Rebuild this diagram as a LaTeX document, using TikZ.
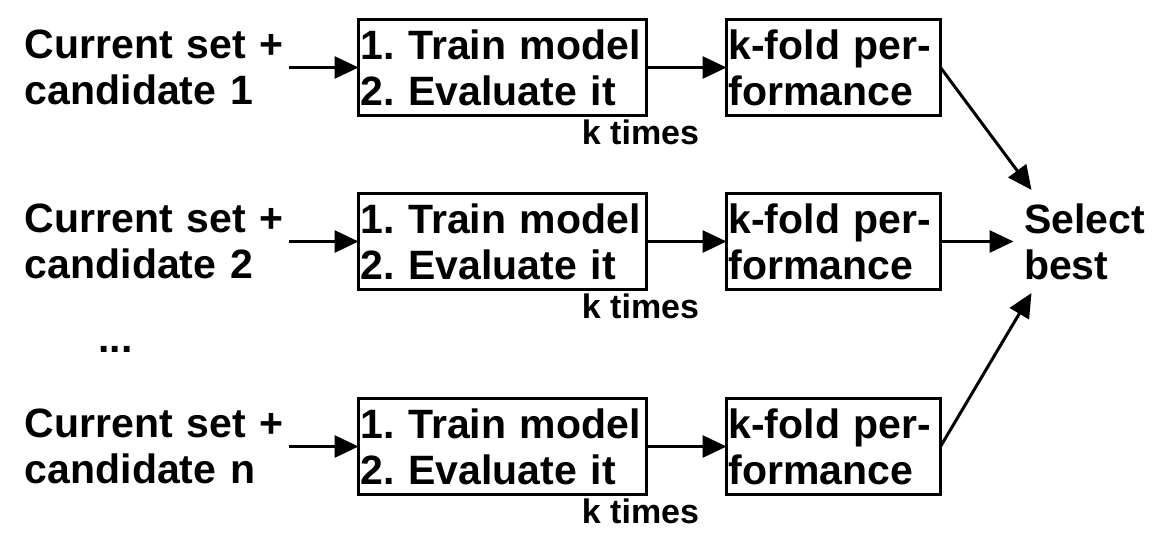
\documentclass[tikz,border=0pt]{standalone}
\usepackage{fontspec}
\setmainfont{Liberation Sans}
\usetikzlibrary{matrix,arrows.meta}
\frenchspacing

\begin{document}
\begin{tikzpicture}[>={Triangle[length=24pt,width=22pt]}, line width=3pt,
	ktimes/.style={anchor=north, inner sep=3pt, font=\fontsize{34pt}{38pt}\selectfont\bfseries},
	selbox/.style={align=left, inner xsep=9pt, inner ysep=12pt, font=\fontsize{41pt}{46pt}\selectfont\bfseries}]
\useasboundingbox (0,0) rectangle (1159pt,-539pt);
\matrix (M)
[
	matrix of nodes,
	anchor=north west,
	inner sep=0pt, outer sep=0pt,
	column sep=68pt,
	row sep=75pt,
	nodes= {
		font=\fontsize{41pt}{46pt}\selectfont\bfseries,
		align=left, outer sep=0pt, inner ysep=0pt,
		minimum height=96pt, anchor=center
	},
	column 1/.style={nodes={text width=262pt, inner xsep=2pt}},
	column 2/.style={nodes={draw, text width=284pt, inner xsep=2pt}},
	column 3/.style={nodes={draw, text width=210pt, inner xsep=2pt}}
] at (23pt,-18pt) {
 {Current set +\\candidate 1} & {1. Train model\\2. Evaluate it} &[9pt] {k-fold per-\\formance} \\
 {Current set +\\candidate 2} & {1. Train model\\2. Evaluate it} & {k-fold per-\\formance} \\[31pt]
 {Current set +\\candidate n} & {1. Train model\\2. Evaluate it} & {k-fold per-\\formance} \\
};

\foreach \i in {1,2,3} {
	\draw[->] (M-\i-1)--(M-\i-2.west);
	\draw[->] (M-\i-2)--(M-\i-3.west);
	\node[ktimes] (kt\i) at ([xshift=-6pt]M-\i-2.south east) {k times};
}
\node[anchor=base west, inner sep=0pt, font=\fontsize{41pt}{46pt}\selectfont\bfseries] (dots)
	at ([xshift=74pt,yshift=46pt]M-3-1.north west) {...};
\node[selbox, anchor=west] (sel) at ([xshift=73pt]M-2-3.east) {Select\\best};
\draw[->] (M-1-3.east)--([xshift=18pt]sel.north west);
\draw[->] (M-2-3)--(sel);
\draw[->] (M-3-3.east)--([xshift=18pt]sel.south west);
\end{tikzpicture}
\end{document}
